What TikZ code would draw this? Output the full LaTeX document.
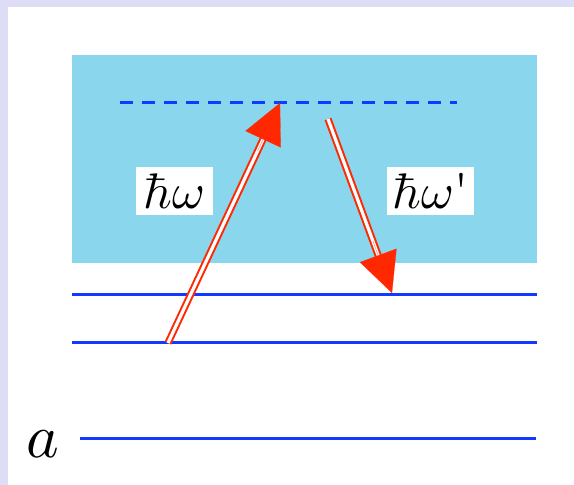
\documentclass[tikz,border=0pt]{standalone}
\usepackage{graphicx}
\usepackage{tikz}
\usetikzlibrary{arrows.meta,calc}
\definecolor{frame}{RGB}{221,221,245}
\definecolor{band}{RGB}{137,214,237}
\definecolor{level}{RGB}{16,58,255}
\definecolor{photon}{RGB}{255,40,0}

\begin{document}
\begin{tikzpicture}[x=0.5pt,y=-0.5pt,
 lvl/.style={draw=level,line width=1.5pt},
 virt/.style={lvl,dash pattern=on 6.5pt off 4.5pt},
 beam/.style={draw=photon,line width=1pt,double=white,double distance=1.6pt,shorten >=16pt},
 head/.style={draw=photon,line width=0.1pt,-{Triangle[length=20pt,width=19.5pt]}},
 lbl/.style={fill=white,inner sep=0pt,minimum height=24pt}]
\useasboundingbox (0,0) rectangle (574,485);
\fill[frame] (0,0) rectangle (574,485);
\fill[white] (8,7) rectangle (574,485);
\fill[band] (72,55) rectangle (537,263);
\coordinate (v1) at (120,103);
\coordinate (v2) at (457,103);
\coordinate (b1) at (72,295);
\coordinate (b2) at (537,295);
\coordinate (c1) at (72,343);
\coordinate (c2) at (537,343);
\coordinate (a1) at (80,439);
\coordinate (a2) at (536,439);
\draw[virt] (v1) -- (v2);
\draw[lvl] (b1) -- (b2);
\draw[lvl] (c1) -- (c2);
\draw[lvl] (a1) -- (a2);
\node[inner sep=0pt] (lblA) at (42.5,444) {\scalebox{3.1}{$a$}};
\coordinate (up-s) at (168,343);
\coordinate (up-t) at (280,103);
\coordinate (dn-s) at (328,119);
\coordinate (dn-t) at (392,293);
\draw[beam] (up-s) -- (up-t);
\draw[head] ($(up-s)!0.8!(up-t)$) -- (up-t);
\draw[beam] (dn-s) -- (dn-t);
\draw[head] ($(dn-s)!0.7!(dn-t)$) -- (dn-t);
\node[lbl,minimum width=38.5pt] (hw) at (174.5,191) {\scalebox{2.5}{$\hbar\omega$}};
\node[lbl,minimum width=43.5pt] (hwp) at (430.5,191) {\scalebox{2.5}{$\hbar\omega$\textquotesingle}};
\end{tikzpicture}
\end{document}
